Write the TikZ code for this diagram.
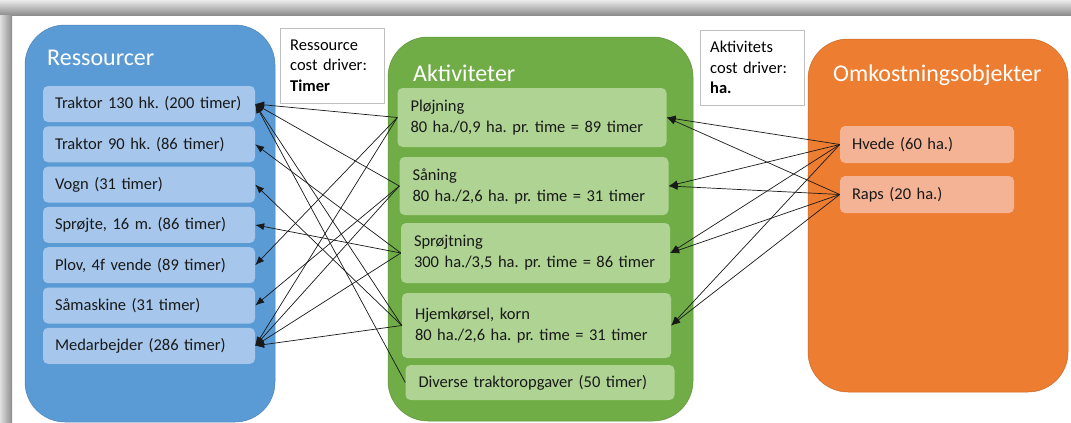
\documentclass[tikz,border=0pt]{standalone}
\usepackage{fontspec}
\setmainfont{Carlito}
\usetikzlibrary{positioning,arrows.meta}
\frenchspacing

\definecolor{resblue}{HTML}{5B9BD5}
\definecolor{resitem}{HTML}{A6C7EB}
\definecolor{actgreen}{HTML}{70AD47}
\definecolor{actitem}{HTML}{AED392}
\definecolor{objorange}{HTML}{ED7D31}
\definecolor{objitem}{HTML}{F5B395}

\begin{document}
\begin{tikzpicture}[x=1pt, y=-1pt, node distance=40.3pt, >={Latex[length=9pt,width=7pt]},
  group/.style={draw=#1!85!black, fill=#1, line width=0.5pt, rounded corners=40pt},
  title/.style={anchor=base west, inner sep=0pt, text=white, font=\fontsize{24}{29}\selectfont},
  item/.style={fill=#1, rounded corners=5pt, inner xsep=12pt, align=left,
    font=\fontsize{16.5}{21}\selectfont, text=black!90},
  resbox/.style={item=resitem, text width=188pt, minimum height=36pt},
  actbox/.style={item=actitem, text width=243pt, inner xsep=13pt},
  objbox/.style={item=objitem, text width=150pt, minimum height=37pt},
  driver/.style={draw=black!25, fill=white, inner xsep=10pt, text width=84pt, minimum height=75pt,
    align=left, anchor=north west, font=\fontsize{16.5}{20.5}\selectfont},
  link/.style={->, line width=0.7pt, black!90}]
\useasboundingbox (0,0) rectangle (1071,423);

% window shadow
\fill[white] (0,0) rectangle (1071,423);
\shade[top color=black!8, bottom color=black!45] (0,0) rectangle (1071,15);
\shade[left color=black!12, right color=black!45] (0,15) rectangle (12,423);

% the three groups
\draw[group=resblue] (25,25) rectangle (275,422);
\draw[group=actgreen] (388,37) rectangle (693,421);
\draw[group=objorange] (808,39) rectangle (1068,392);

\node[title] (tres) at (47,65) {Ressourcer};
\node[title] (tact) at (413,81) {Aktiviteter};
\node[title] (tobj) at (833,81) {Omkostningsobjekter};

% cost drivers
\node[driver] (d1) at (280,28) {Ressource\\cost driver:\\\textbf{Timer}};
\node[driver] (d2) at (700,30) {Aktivitets\\cost driver:\\\textbf{ha.}};

% ressourcer
\node[resbox] (r1) at (149,104) {Traktor 130 hk. (200 timer)};
\node[resbox] (r2) [below of=r1] {Traktor 90 hk. (86 timer)};
\node[resbox] (r3) [below of=r2] {Vogn (31 timer)};
\node[resbox] (r4) [below of=r3] {Sprøjte, 16 m. (86 timer)};
\node[resbox] (r5) [below of=r4] {Plov, 4f vende (89 timer)};
\node[resbox] (r6) [below of=r5] {Såmaskine (31 timer)};
\node[resbox] (r7) [below of=r6] {Medarbejder (286 timer)};

% aktiviteter
\node[actbox, minimum height=59pt] (a1) at (532,117.5) {Pløjning\\80 ha./0,9 ha. pr. time = 89 timer};
\node[actbox, minimum height=58pt] (a2) at (534,186) {Såning\\80 ha./2,6 ha. pr. time = 31 timer};
\node[actbox, minimum height=60pt] (a3) at (535.5,253) {Sprøjtning\\300 ha./3,5 ha. pr. time = 86 timer};
\node[actbox, minimum height=65pt] (a4) at (536.5,325.5) {Hjemkørsel, korn\\80 ha./2,6 ha. pr. time = 31 timer};
\node[actbox, minimum height=35pt] (a5) at (540,382.5) {Diverse traktoropgaver (50 timer)};

% omkostningsobjekter
\node[objbox] (o1) at (927,144.5) {Hvede (60 ha.)};
\node[objbox] (o2) at (927,194.5) {Raps (20 ha.)};

\draw[link] (a1.west) -- (r1.east);
\draw[link] (a1.west) -- (r5.east);
\draw[link] (a1.west) -- (r7.east);
\draw[link] (a2.west) -- (r1.east);
\draw[link] (a2.west) -- (r6.east);
\draw[link] (a2.west) -- (r7.east);
\draw[link] (a3.west) -- (r2.east);
\draw[link] (a3.west) -- (r4.east);
\draw[link] (a3.west) -- (r7.east);
\draw[link] (a4.west) -- (r1.east);
\draw[link] (a4.west) -- (r3.east);
\draw[link] (a4.west) -- (r7.east);
\draw[link] (a5.west) -- (r1.east);

\draw[link] (o1.west) -- (a1.east);
\draw[link] (o1.west) -- (a2.east);
\draw[link] (o1.west) -- (a3.east);
\draw[link] (o1.west) -- (a4.east);
\draw[link] (o2.west) -- (a1.east);
\draw[link] (o2.west) -- (a2.east);
\draw[link] (o2.west) -- (a3.east);
\draw[link] (o2.west) -- (a4.east);
\end{tikzpicture}
\end{document}
